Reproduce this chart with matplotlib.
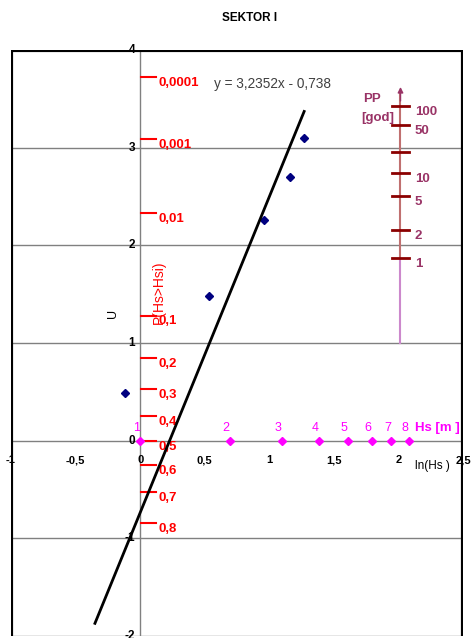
import matplotlib
matplotlib.use("Agg")
import matplotlib.pyplot as plt
import numpy as np
from statistics import NormalDist

# measured points: ln(Hs) vs standard normal variate U
ln_hs = [-0.117, 0.53, 0.96, 1.164, 1.266]
u_pts = [0.49, 1.48, 2.26, 2.70, 3.10]

# fitted trend line
slope = 3.2352
intercept = -0.738
trend_x = [-0.35, 1.27]

# exceedance probability scale
probs = [0.0001, 0.001, 0.01, 0.1, 0.2, 0.3, 0.4, 0.5, 0.6, 0.7, 0.8]
prob_labels = ["0,0001", "0,001", "0,01", "0,1", "0,2", "0,3", "0,4", "0,5", "0,6", "0,7", "0,8"]

# Hs scale on ln axis
hs_vals = [1, 2, 3, 4, 5, 6, 7, 8]

# return period scale
pp_years = [100, 50, 20, 10, 5, 2, 1]
pp_labels = ["100", "50", "", "10", "5", "2", "1"]
events_per_year = 32.5

xticks = [-1, -0.5, 0, 0.5, 1, 1.5, 2, 2.5]
xtick_labels = ["-1", "-0,5", "0", "0,5", "1", "1,5", "2", "2,5"]
yticks = [4, 3, 2, 1, 0, -1, -2]

nd = NormalDist()
red = "#ff0000"
mag = "#ff00ff"
pur = "#993366"
fam = "Liberation Sans"

fig = plt.figure(figsize=(4.71, 6.38), dpi=100)
ax = fig.add_axes([11/471, 1 - 636/638, 452/471, 586/638])
ax.set_xlim(-1, 2.5)
ax.set_ylim(-2, 4)
ax.axis("off")

# borders and grid
ax.plot([-1, -1], [-2, 4], color="black", lw=3, zorder=5)
ax.plot([2.5, 2.5], [-2, 4], color="black", lw=3, zorder=5)
ax.plot([-1, 2.5], [4, 4], color="black", lw=3, zorder=5)
ax.plot([-1, 2.5], [-2, -2], color="#808080", lw=1)
for yv in [-1, 0, 1, 2, 3]:
    ax.plot([-1, 2.5], [yv, yv], color="#808080", lw=1, zorder=1)
ax.plot([0, 0], [-2, 4], color="#808080", lw=1, zorder=1)

# tick labels
for yv in yticks:
    ax.text(-0.04, yv, str(yv), ha="right", va="center", fontsize=8.5,
            fontweight="bold", family=fam)
for xv, lab in zip(xticks, xtick_labels):
    ax.text(xv, -0.2, lab, ha="center", va="center", fontsize=8,
            fontweight="bold", family=fam)

# probability scale
for p, lab in zip(probs, prob_labels):
    u = nd.inv_cdf(1 - p)
    ax.plot([0.01, 0.12], [u, u], color=red, lw=1.5, zorder=3)
    ax.text(0.14, u - 0.06, lab, color=red, ha="left", va="center", fontsize=9.5,
            fontweight="bold", family=fam, zorder=4)
ax.text(0.148, 1.52, "P(Hs>Hsi)", color=red, rotation=90, ha="center", va="center",
        fontsize=10, family=fam)
ax.text(-0.21, 1.3, "U", rotation=90, ha="center", va="center", fontsize=9,
        family=fam)

# Hs scale
ln_vals = np.log(hs_vals)
ax.plot(ln_vals, np.zeros(len(ln_vals)), "D", color=mag, ms=4, zorder=4)
for lv, h in zip(ln_vals, hs_vals):
    ax.text(lv - 0.03, 0.13, str(h), color=mag, ha="center", va="center",
            fontsize=9, family=fam)
ax.text(2.3, 0.13, "Hs [m ]", color=mag, ha="center", va="center", fontsize=9.5,
        fontweight="bold", family=fam)
ax.text(2.26, -0.26, "ln(Hs )", ha="center", va="center", fontsize=8.5,
        family=fam)

# data and trend
ax.plot(ln_hs, u_pts, "D", color="#000080", ms=4, zorder=6)
tx = np.array(trend_x)
ax.plot(tx, slope * tx + intercept, color="black", lw=2, zorder=6)
ax.text(0.57, 3.65, "y = 3,2352x - 0,738", color="#404040", ha="left", va="center",
        fontsize=9.8, family=fam)

# return period scale
pp_u = [nd.inv_cdf(1 - 1 / (events_per_year * t)) for t in pp_years]
x_pp = 2.016
ax.plot([x_pp, x_pp], [1, pp_u[-1]], color="#cc88cc", lw=1.5, zorder=2)
ax.plot([x_pp, x_pp], [pp_u[-1], 3.55], color="#c07070", lw=1.5, zorder=2)
ax.annotate("", xy=(x_pp, 3.65), xytext=(x_pp, 3.45),
            arrowprops=dict(arrowstyle="-|>", color=pur, lw=1, mutation_scale=8))
for uu, lab in zip(pp_u, pp_labels):
    ax.plot([x_pp - 0.065, x_pp + 0.065], [uu, uu], color="#8b0000", lw=2, zorder=3)
    ax.text(x_pp + 0.11, uu - 0.06, lab, color=pur, ha="left", va="center",
            fontsize=9.5, fontweight="bold", family=fam)
ax.text(1.73, 3.5, "PP", color=pur, ha="left", va="center", fontsize=9.5,
        fontweight="bold", family=fam)
ax.text(1.71, 3.3, "[god]", color=pur, ha="left", va="center", fontsize=9.5,
        fontweight="bold", family=fam)

fig.text(250/471, 1 - 18/638, "SEKTOR I", ha="center", va="center", fontsize=8.5,
         fontweight="bold", family=fam)

fig.savefig("out.png", dpi=100)
